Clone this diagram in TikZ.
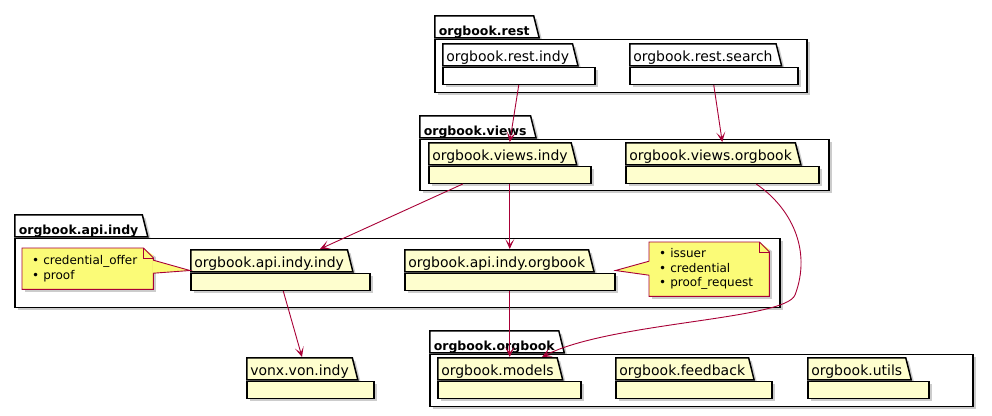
\documentclass[tikz,border=0pt]{standalone}
\usepackage{fontspec}
\setmainfont{DejaVu Sans}
\usetikzlibrary{shapes.geometric,shadows,arrows.meta}
\definecolor{pkgyellow}{RGB}{254, 254, 206}
\definecolor{notefill}{RGB}{251, 251, 119}
\definecolor{deparrow}{RGB}{168, 0, 54}

\begin{document}
\begin{tikzpicture}[x=1pt, y=-1pt,
    pkgtab/.style={trapezium, trapezium left angle=90,
                trapezium right angle=76, draw, line width=1.5pt,
                fill=pkgyellow, anchor=top left corner,
                inner xsep=3.5pt, inner ysep=0pt,
                text height=18pt, text depth=4pt,
                font=\fontsize{14}{16}\selectfont,
                drop shadow={shadow xshift=3pt, shadow yshift=-3pt,
                             opacity=0.4}},
    outertab/.style={pkgtab, fill=white, inner xsep=4pt,
                text height=20pt, text depth=2pt,
                font=\fontsize{12.5}{14}\selectfont\bfseries},
    pkgbody/.style={rectangle, draw, line width=1.5pt, fill=pkgyellow,
                anchor=north west, minimum height=17pt, inner sep=0pt,
                drop shadow={shadow xshift=3pt, shadow yshift=-3pt,
                             opacity=0.4}},
    outerbody/.style={pkgbody, fill=white},
    note/.style={rectangle, fill=notefill, anchor=north west,
                align=left, inner xsep=10pt, inner ysep=0pt,
                font=\fontsize{12}{14.5}\selectfont,
                drop shadow={shadow xshift=3pt, shadow yshift=-3pt,
                             opacity=0.4}},
    noteline/.style={draw=deparrow, line width=0.9pt},
    dep/.style={-{Stealth[length=10pt, width=9pt, inset=5.5pt]},
                draw=deparrow, line width=0.9pt}]

    \useasboundingbox (0,0) rectangle (992,415);

    % Outer packages
    \node[outertab] (rest-tab) at (434,15) {orgbook.rest};
    \node[outerbody, minimum width=372pt, minimum height=53pt]
        (rest) at (rest-tab.bottom left corner) {};
    \node[outertab] (views-tab) at (419,115) {orgbook.views};
    \node[outerbody, minimum width=409pt, minimum height=51pt]
        (views) at (views-tab.bottom left corner) {};
    \node[outertab] (api-indy-tab) at (14,214) {orgbook.api.indy};
    \node[outerbody, minimum width=765pt, minimum height=69pt]
        (api-indy) at (api-indy-tab.bottom left corner) {};
    \node[outertab] (orgbook-tab) at (429,330) {orgbook.orgbook};
    \node[outerbody, minimum width=543pt, minimum height=52pt]
        (orgbook) at (orgbook-tab.bottom left corner) {};

    % orgbook.rest
    \node[pkgtab, fill=white] (rest-indy-tab) at (442,43) {orgbook.rest.indy};
    \node[pkgbody, fill=white, minimum width=152pt]
        (rest-indy) at (rest-indy-tab.bottom left corner) {};
    \node[pkgtab, fill=white] (rest-search-tab) at (629,43) {orgbook.rest.search};
    \node[pkgbody, fill=white, minimum width=168pt]
        (rest-search) at (rest-search-tab.bottom left corner) {};

    % orgbook.views
    \node[pkgtab] (views-indy-tab) at (428,142) {orgbook.views.indy};
    \node[pkgbody, minimum width=162pt]
        (views-indy) at (views-indy-tab.bottom left corner) {};
    \node[pkgtab] (views-orgbook-tab) at (625,142) {orgbook.views.orgbook};
    \node[pkgbody, minimum width=193pt]
        (views-orgbook) at (views-orgbook-tab.bottom left corner) {};

    % orgbook.api.indy
    \node[pkgtab] (api-indy-indy-tab) at (190,249) {orgbook.api.indy.indy};
    \node[pkgbody, minimum width=179pt]
        (api-indy-indy) at (api-indy-indy-tab.bottom left corner) {};
    \node[pkgtab] (api-indy-orgbook-tab) at (404,249) {orgbook.api.indy.orgbook};
    \node[pkgbody, minimum width=210pt]
        (api-indy-orgbook) at (api-indy-orgbook-tab.bottom left corner) {};

    % vonx
    \node[pkgtab] (vonx-tab) at (246,357) {vonx.von.indy};
    \node[pkgbody, minimum width=127pt]
        (vonx) at (vonx-tab.bottom left corner) {};

    % orgbook.orgbook
    \node[pkgtab] (models-tab) at (437,357) {orgbook.models};
    \node[pkgbody, minimum width=143pt]
        (models) at (models-tab.bottom left corner) {};
    \node[pkgtab] (feedback-tab) at (615,357) {orgbook.feedback};
    \node[pkgbody, minimum width=156pt]
        (feedback) at (feedback-tab.bottom left corner) {};
    \node[pkgtab] (utils-tab) at (807,357) {orgbook.utils};
    \node[pkgbody, minimum width=121pt]
        (utils) at (utils-tab.bottom left corner) {};

    % Notes
    \node[note, text width=111pt, minimum height=41pt] (offer-note) at (22,248)
        {\textbullet\ credential\_offer\\\textbullet\ proof};
    \fill[white] ([xshift=-10pt]offer-note.north east) -- ([xshift=4pt]offer-note.north east)
        -- ([xshift=4pt,yshift=-10pt]offer-note.north east) -- cycle;
    \draw[noteline] (offer-note.north west) -- ([xshift=-10pt]offer-note.north east)
        -- ([yshift=-10pt]offer-note.north east) -- (offer-note.south east)
        -- (offer-note.south west) -- cycle;
    \draw[noteline] ([xshift=-10pt]offer-note.north east)
        |- ([yshift=-10pt]offer-note.north east);
    \fill[notefill] ([xshift=-1pt,yshift=8.5pt]offer-note.east)
        -- ([yshift=2pt]api-indy-indy-tab.bottom left corner)
        -- ([xshift=-1pt,yshift=-4.5pt]offer-note.east) -- cycle;
    \draw[noteline] ([yshift=8.5pt]offer-note.east)
        -- ([yshift=2pt]api-indy-indy-tab.bottom left corner)
        -- ([yshift=-4.5pt]offer-note.east);

    \node[note, text width=100pt, minimum height=54pt] (request-note) at (649,242)
        {\textbullet\ issuer\\\textbullet\ credential\\\textbullet\ proof\_request};
    \fill[white] ([xshift=-10pt]request-note.north east) -- ([xshift=4pt]request-note.north east)
        -- ([xshift=4pt,yshift=-10pt]request-note.north east) -- cycle;
    \draw[noteline] (request-note.north west) -- ([xshift=-10pt]request-note.north east)
        -- ([yshift=-10pt]request-note.north east) -- (request-note.south east)
        -- (request-note.south west) -- cycle;
    \draw[noteline] ([xshift=-10pt]request-note.north east)
        |- ([yshift=-10pt]request-note.north east);
    \fill[notefill] ([xshift=1pt,yshift=8pt]request-note.west)
        -- ([yshift=2pt]api-indy-orgbook.north east)
        -- ([xshift=1pt,yshift=-6pt]request-note.west) -- cycle;
    \draw[noteline] ([yshift=8pt]request-note.west)
        -- ([yshift=2pt]api-indy-orgbook.north east)
        -- ([yshift=-6pt]request-note.west);

    % Dependencies
    \draw[dep] (rest-indy.south) -- (views-indy-tab.top left corner -| views-indy.north);
    \draw[dep] (rest-search.south) -- (views-orgbook-tab.top left corner -| views-orgbook.north);
    \draw[dep] ([xshift=-47pt]views-indy.south) -- ([xshift=130pt]api-indy-indy-tab.top left corner);
    \draw[dep] (views-indy.south) -- (api-indy-orgbook-tab.top left corner -| views-indy.south);
    \draw[dep] ([xshift=34pt]views-orgbook.south)
        .. controls +(35,24) and +(17,-45) .. (795,295)
        .. controls +(-10,25) and +(68,-35) .. ([xshift=105pt]models-tab.top left corner);
    \draw[dep] ([xshift=3pt]api-indy-indy.south) -- ([xshift=56pt]vonx-tab.top left corner);
    \draw[dep] (api-indy-orgbook.south) -- (models-tab.top left corner -| api-indy-orgbook.south);
\end{tikzpicture}
\end{document}
